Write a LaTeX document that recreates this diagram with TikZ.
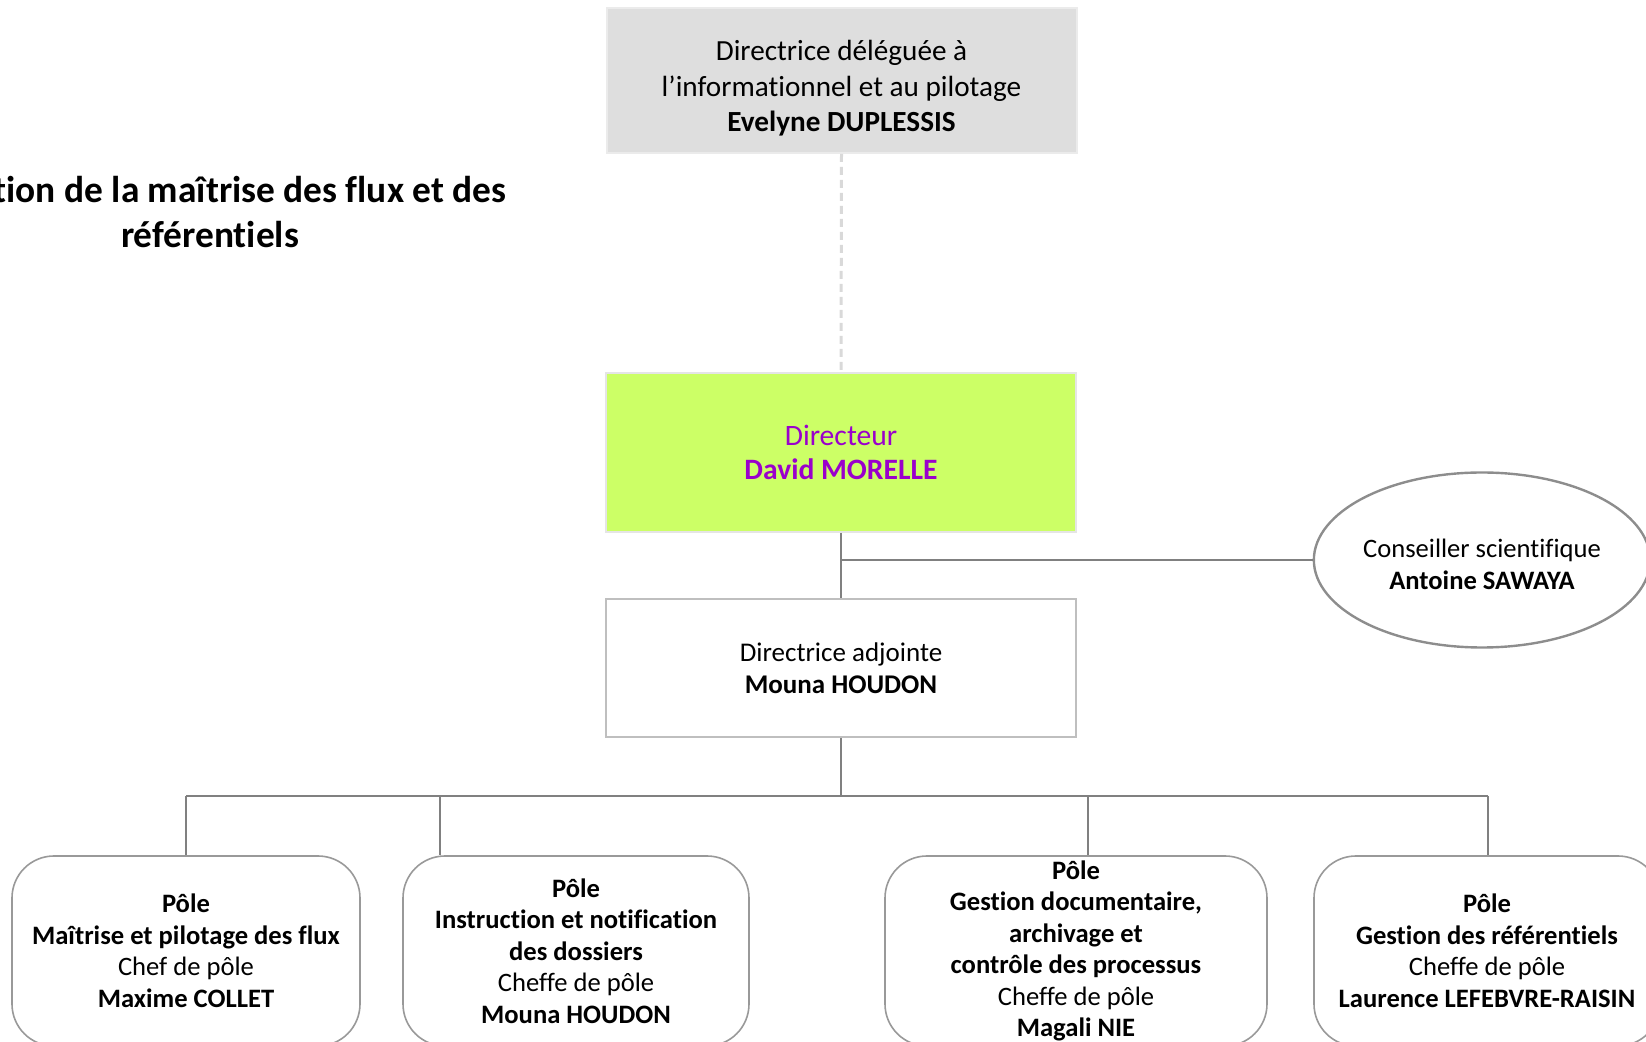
\documentclass[tikz,border=0pt]{standalone}
\usepackage{fontspec}
\setmainfont{Carlito}[Ligatures=NoCommon]
\usetikzlibrary{shapes.geometric}
\definecolor{liengris}{HTML}{808080}
\definecolor{bordgris}{HTML}{BFBFBF}
\definecolor{fondgris}{HTML}{DEDEDE}
\definecolor{fondvert}{HTML}{CCFF66}
\definecolor{violet}{HTML}{9A00CC}
\tikzset{
  lien/.style={draw=liengris,line width=1pt},
  cadre/.style={draw=bordgris,line width=1pt,align=center,inner sep=0pt,
    minimum width=235pt,font=\fontsize{13.5}{16}\selectfont},
  pole/.style={draw=bordgris!80!black,line width=0.8pt,rounded corners=21pt,
    align=center,inner sep=0pt,minimum height=95pt,
    font=\fontsize{13.3}{15.75}\selectfont}
}
\begin{document}
\begin{tikzpicture}[x=0.5pt,y=-0.5pt]
\useasboundingbox (0,0) rectangle (1646,1042);
\clip (0,0) rectangle (1646,1042);
% titre
\node[align=center,font=\bfseries\fontsize{18.7}{22.5}\selectfont] (titre) at (210,212)
  {\hphantom{Direc}tion de la maîtrise des flux et des\\référentiels};
% direction
\node[cadre,fill=fondgris,draw=fondgris!60!white,minimum height=72.5pt,font=\fontsize{14.6}{17.8}\selectfont] (deleguee) at (841.5,80.5)
  {\raisebox{-4.2pt}[\height][\depth]{\begin{tabular}{@{}c@{}}Directrice déléguée à\\l’informationnel et au pilotage\\\textbf{Evelyne DUPLESSIS}\end{tabular}}};
\node[cadre,fill=fondvert,draw=black!10,minimum height=79.5pt,text=violet,font=\fontsize{14.8}{17}\selectfont] (directeur) at (841,452.5)
  {Directeur\\\textbf{David MORELLE}};
\node[cadre,minimum height=69pt] (adjointe) at (841,668)
  {Directrice adjointe\\\textbf{Mouna HOUDON}};
\node[ellipse,draw=liengris!90!white,line width=1.2pt,minimum width=168pt,minimum height=87.5pt,
  align=center,inner sep=0pt,font=\fontsize{13.3}{16}\selectfont] (conseiller) at (1482,560)
  {\raisebox{-3.7pt}[\height][\depth]{\begin{tabular}{@{}c@{}}Conseiller scientifique\\\textbf{Antoine SAWAYA}\end{tabular}}};
% poles
\node[pole,minimum width=174pt] (flux) at (186,951)
  {\textbf{Pôle}\\\textbf{Maîtrise et pilotage des flux}\\Chef de pôle\\\textbf{Maxime COLLET}};
\node[pole,minimum width=173pt] (instruction) at (576,951)
  {\textbf{Pôle}\\\textbf{Instruction et notification}\\\textbf{des dossiers}\\Cheffe de pôle\\\textbf{Mouna HOUDON}};
\node[pole,minimum width=191pt] (documentaire) at (1076,951)
  {\textbf{Pôle}\\\textbf{Gestion documentaire,}\\\textbf{archivage et}\\\textbf{contrôle des processus}\\Cheffe de pôle\\\textbf{Magali NIE}};
\node[pole,minimum width=173pt] (referentiels) at (1487,951)
  {\textbf{Pôle}\\\textbf{Gestion des référentiels}\\Cheffe de pôle\\\textbf{Laurence LEFEBVRE-RAISIN}};
% liens
\draw[draw=black!15,line width=1.5pt,dash pattern=on 4pt off 2.5pt] (deleguee.south) -- (directeur.north);
\draw[lien] (directeur.south) -- (adjointe.north);
\draw[lien] (directeur.south |- conseiller.west) -- (conseiller.west);
\coordinate (barre) at (841,796);
\draw[lien] (adjointe.south) -- (barre);
\coordinate (b1) at (186,796);
\coordinate (b2) at (440,796);
\coordinate (b3) at (1088,796);
\coordinate (b4) at (1488,796);
\draw[lien] (b1) -- (b4);
\foreach \b/\p in {b1/flux,b2/instruction,b3/documentaire,b4/referentiels}
  \draw[lien] (\b) -- (\b |- \p.north);
\end{tikzpicture}
\end{document}
